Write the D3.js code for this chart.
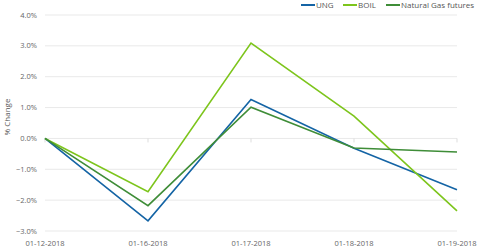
<!DOCTYPE html>
<html>
<head>
<meta charset="utf-8">
<script src="https://cdn.jsdelivr.net/npm/d3@7"></script>
<style>
  body { margin: 0; background: #fff; }
  text { font-family: "Open Sans", "Noto Sans", sans-serif; }
</style>
</head>
<body>
<svg id="chart" width="480" height="251"></svg>
<script>
// data
const dates = ["01-12-2018", "01-16-2018", "01-17-2018", "01-18-2018", "01-19-2018"];
const ung = [0, -2.67, 1.26, -0.32, -1.66];
const boil = [0, -1.73, 3.09, 0.72, -2.35];
const ngFutures = [0, -2.18, 1.01, -0.31, -0.44];
const yTicks = [-3, -2, -1, 0, 1, 2, 3, 4];

const series = [
    { name: "UNG", values: ung, color: "#1464a5" },
    { name: "BOIL", values: boil, color: "#7dc51c" },
    { name: "Natural Gas futures", values: ngFutures, color: "#3f8d38" }
];

const svg = d3.select("#chart");
const margin = { top: 15, right: 23, bottom: 20, left: 45 };

const g = svg.append("g")
    .attr("transform", `translate(${margin.left},${margin.top})`);

const x = d3.scalePoint().domain(dates).range([0, 412]);
const y = d3.scaleLinear().domain([-3, 4]).range([216, 0]);

// grid
g.append("g")
    .selectAll("line")
    .data(yTicks)
    .join("line")
    .attr("x1", 0)
    .attr("x2", 412)
    .attr("y1", d => y(d))
    .attr("y2", d => y(d))
    .attr("stroke", "#e9e9e9")
    .attr("stroke-width", 1);

// y labels
g.append("g")
    .selectAll("text")
    .data(yTicks)
    .join("text")
    .attr("x", -8)
    .attr("y", d => y(d))
    .attr("dy", "0.35em")
    .attr("text-anchor", "end")
    .attr("fill", "#666")
    .attr("font-size", 7.5)
    .text(d => d3.format(".1f")(d) + "%");

// ticks at zero line
g.append("g")
    .selectAll("line")
    .data(dates)
    .join("line")
    .attr("x1", d => x(d))
    .attr("x2", d => x(d))
    .attr("y1", y(0))
    .attr("y2", y(0) + 4)
    .attr("stroke", "#ddd");

// x labels
g.append("g")
    .selectAll("text")
    .data(dates)
    .join("text")
    .attr("x", d => x(d))
    .attr("y", 228)
    .attr("dy", "0.35em")
    .attr("text-anchor", "middle")
    .attr("fill", "#666")
    .attr("font-size", 7.5)
    .text(d => d);

// axis title
svg.append("text")
    .attr("transform", `translate(10,117) rotate(-90)`)
    .attr("text-anchor", "middle")
    .attr("fill", "#555")
    .attr("font-size", 8)
    .text("% Change");

// lines
const line = d3.line()
    .x((d, i) => x(dates[i]))
    .y(d => y(d));

g.selectAll("path.series")
    .data(series)
    .join("path")
    .attr("class", "series")
    .attr("fill", "none")
    .attr("stroke", d => d.color)
    .attr("stroke-width", 1.6)
    .attr("d", d => line(d.values));

// legend
const legendX = [301, 343, 386];
const legend = svg.append("g")
    .selectAll("g")
    .data(series)
    .join("g")
    .attr("transform", (d, i) => `translate(${legendX[i]},5)`);

legend.append("line")
    .attr("x1", 0).attr("x2", 14)
    .attr("stroke", d => d.color)
    .attr("stroke-width", 2);

legend.append("text")
    .attr("x", 15)
    .attr("dy", "0.35em")
    .attr("fill", "#555")
    .attr("font-size", 8)
    .text(d => d.name);
</script>
</body>
</html>
